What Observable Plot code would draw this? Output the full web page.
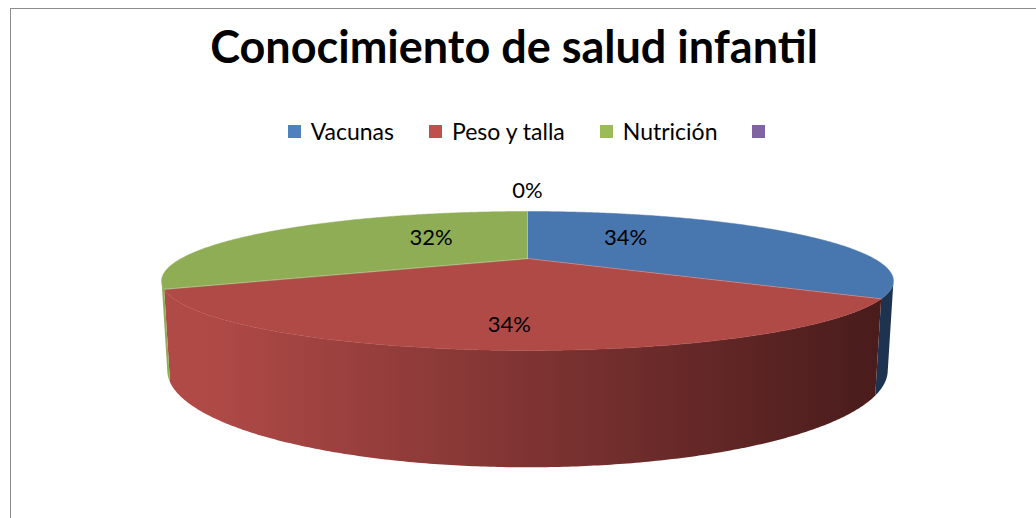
<!DOCTYPE html>
<html>
<head>
<meta charset="utf-8">
<script src="https://cdn.jsdelivr.net/npm/d3@7"></script>
<script src="https://cdn.jsdelivr.net/npm/@observablehq/plot@0.6"></script>
<style>
  html, body { margin: 0; padding: 0; background: #fff; }
  body { width: 1036px; height: 518px; overflow: hidden; position: relative; font-family: Lato, "Open Sans", sans-serif; color: #000; }
  #frame { position: absolute; left: 10px; top: 8px; width: 1100px; height: 600px; border: 1.5px solid #8c8c8c; box-sizing: border-box; }
  #title { position: absolute; left: 0; top: 18px; width: 1028px; text-align: center; font-weight: bold; font-size: 45px; line-height: 56px; }
  #legend { position: absolute; left: 7px; top: 116px; width: 1055px; display: flex; justify-content: center; font-size: 23px; line-height: 30px; }
  .item { display: flex; align-items: center; margin: 0 17.5px; }
  .sw { width: 13px; height: 13px; margin-right: 10px; }
  #chart { position: absolute; left: 0; top: 160px; }
</style>
</head>
<body>
<div id="frame"></div>
<div id="title">Conocimiento de salud infantil</div>
<div id="legend"></div>
<div id="chart"></div>
<script>
// ---- data ----
const categories = ["Vacunas", "Peso y talla", "Nutrición", ""];
const values = [34, 34, 32, 0];
const pctLabels = ["34%", "34%", "32%", "0%"];

// ---- styles ----
const legendColors = ["#4F81BD", "#C0504D", "#9BBB59", "#8064A2"];
const topColors = ["#4877B0", "#AF4A47", "#8FAD55", "#7A5F9C"];
const sideLight = ["#4777AF", "#B04A47", "#8FAD55", "#7A5F9C"];
const sideDark = ["#1E3350", "#4A1C1C", "#3C4A22", "#33283F"];

// ---- layout (view of the 3D pie) ----
const phi = 10.35 * Math.PI / 180, Dist = 3.04, K = 1052.6, CX = 527, CY = 258, thick = 0.2407;
// label placement: radius along mid angle, and vertical lift (px)
const labRadius = [0.34, 0.66, 0.35, 1.0];
const labLift = [-11, 14, -10, -21];

function proj(theta, r, Y) {
  const X = r * Math.sin(theta), Z = -r * Math.cos(theta);
  const s = Math.sin(phi), c = Math.cos(phi);
  const v = Y * c - Z * s;
  const w = Dist - (Z * c + Y * s);
  return [CX + K * X / w, CY - K * v / w];
}

const total = d3.sum(values);
let acc = 0;
const slices = values.map((v, i) => {
  const a = acc / total * 2 * Math.PI;
  acc += v;
  const b = acc / total * 2 * Math.PI;
  return {i, a, b};
});

// visible side range (front-facing)
const cv = Math.acos(-1 / (Dist * Math.cos(phi)));
const visA = cv, visB = 2 * Math.PI - cv;

function arc(a, b, r, Y) {
  const n = Math.max(2, Math.ceil((b - a) / (0.5 * Math.PI / 180)));
  const pts = [];
  for (let j = 0; j <= n; j++) pts.push(proj(a + (b - a) * j / n, r, Y));
  return pts;
}

const sides = [], tops = [], spokes = [];
slices.forEach(({i, a, b}) => {
  if (b - a <= 0) return;
  const p0 = proj(0, 0, 0);
  arc(a, b, 1, 0).concat([p0]).forEach(([x, y]) => tops.push({id: "t" + i, k: i, x, y}));
  [p0, proj(a, 1, 0)].forEach(([x, y]) => spokes.push({id: "r" + i, x, y}));
  const sa = Math.max(a, visA), sb = Math.min(b, visB);
  if (sb > sa) {
    const up = arc(sa, sb, 1, 0), dn = arc(sa, sb, 1, -thick).reverse();
    up.concat(dn).forEach(([x, y]) => sides.push({id: "s" + i, k: i, x, y}));
  }
});

const labelData = slices.map(({i, a, b}) => {
  const m = (a + b) / 2;
  const [x, y] = proj(m, labRadius[i], 0);
  return {x, y: y + labLift[i], text: pctLabels[i]};
});

// legend (HTML)
const legend = document.getElementById("legend");
categories.forEach((c, i) => {
  const it = document.createElement("div");
  it.className = "item";
  it.innerHTML = `<div class="sw" style="background:${legendColors[i]}"></div><span>${c || "&nbsp;"}</span>`;
  legend.appendChild(it);
});

const xLeft = proj(visB, 1, 0)[0], xRight = proj(visA, 1, 0)[0];

const defsMark = (index, scales) => {
  const defs = d3.create("svg:defs");
  slices.forEach(({i}) => {
    const g = defs.append("linearGradient").attr("id", "side" + i)
      .attr("gradientUnits", "userSpaceOnUse")
      .attr("x1", scales.x(xLeft)).attr("x2", scales.x(xRight)).attr("y1", 0).attr("y2", 0);
    g.append("stop").attr("offset", 0).attr("stop-color", sideLight[i]);
    g.append("stop").attr("offset", 0.06).attr("stop-color", sideLight[i]);
    g.append("stop").attr("offset", 0.97).attr("stop-color", sideDark[i]);
    g.append("stop").attr("offset", 1).attr("stop-color", sideDark[i]);
  });
  return defs.node();
};

const marks = [defsMark];
slices.forEach(({i}) => {
  const d = sides.filter(p => p.k === i);
  if (d.length) marks.push(Plot.line(d, {x: "x", y: "y", z: "id", curve: "linear-closed", fill: `url(#side${i})`, stroke: "none"}));
});
slices.forEach(({i}) => {
  const d = tops.filter(p => p.k === i);
  if (d.length) marks.push(Plot.line(d, {x: "x", y: "y", z: "id", curve: "linear-closed", fill: topColors[i], stroke: topColors[i], strokeWidth: 0.5}));
});
marks.push(Plot.line(spokes, {x: "x", y: "y", z: "id", stroke: "#ffffff", strokeOpacity: 0.35, strokeWidth: 0.8}));
marks.push(Plot.text(labelData, {x: "x", y: "y", text: "text", fontSize: 22, fill: "#000", fontFamily: "Lato, sans-serif"}));

const chart = Plot.plot({
  width: 1036,
  height: 358,
  margin: 0,
  x: {domain: [0, 1036], range: [0, 1036], axis: null},
  y: {domain: [160, 518], range: [0, 358], axis: null},
  style: {background: "transparent", overflow: "visible"},
  marks
});
document.getElementById("chart").appendChild(chart);
</script>
</body>
</html>
